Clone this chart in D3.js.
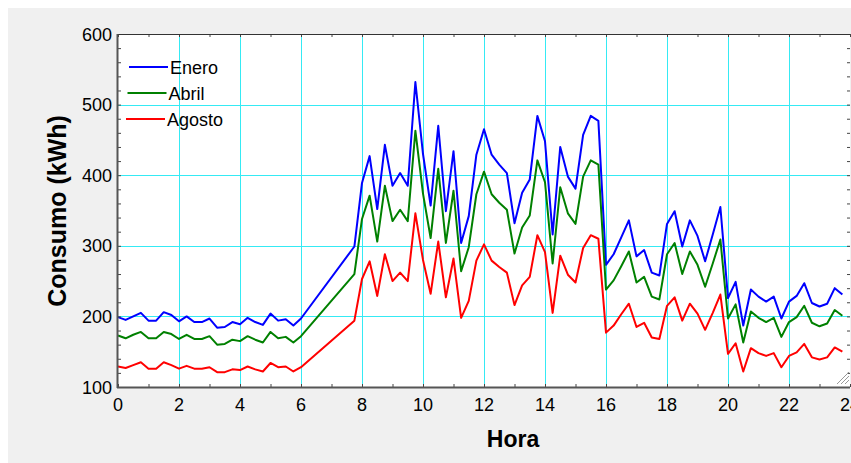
<!DOCTYPE html>
<html>
<head>
<meta charset="utf-8">
<script src="https://cdn.jsdelivr.net/npm/d3@7"></script>
<style>
body { margin: 0; background: #fff; overflow: hidden; }
text { font-family: Arial, "Liberation Sans", sans-serif; fill: #000; }
</style>
</head>
<body>
<svg id="chart" width="851" height="463"></svg>
<script>
// hours of the day (15 min steps, no samples between 6:00 and 7:45)
var horas = [0,0.25,0.5,0.75,1,1.25,1.5,1.75,2,2.25,2.5,2.75,3,3.25,3.5,3.75,4,4.25,4.5,4.75,5,5.25,5.5,5.75,6,
	7.75,
	8,8.25,8.5,8.75,9,9.25,9.5,9.75,10,10.25,10.5,10.75,11,11.25,11.5,11.75,
	12,12.25,12.5,12.75,13,13.25,13.5,13.75,14,14.25,14.5,14.75,15,15.25,15.5,15.75,
	16,16.25,16.5,16.75,17,17.25,17.5,17.75,18,18.25,18.5,18.75,19,19.25,19.5,19.75,
	20,20.25,20.5,20.75,21,21.25,21.5,21.75,22,22.25,22.5,22.75,23,23.25,23.5,23.75];

var enero = [199,195,200,205,194,194,206,202,193,200,192,192,197,184,185,192,189,198,192,188,204,194,196,187,197,
	299,
	389,427,352,443,385,403,385,532, 430,357,470,349,434,304,342,429,
	465,429,415,403,332,375,394,484, 448,316,440,398,381,457,484,477,
	273,288,312,336,285,294,262,258, 331,349,299,336,314,278,316,355,
	226,249,187,238,228,221,228,197, 221,229,247,219,214,218,240,231];

var abril = [173,169,174,178,169,169,178,175,168,174,168,168,172,160,161,167,165,172,167,163,178,169,171,163,172,
	260,
	338,371,306,385,335,351,335,463, 374,311,409,304,378,264,298,373,
	405,373,361,351,289,326,343,421, 390,275,383,346,331,398,421,415,
	238,251,271,292,248,256,228,224, 288,304,260,292,273,242,275,309,
	197,217,163,207,198,192,198,171, 192,199,215,191,186,190,209,201];

var agosto = [129,127,131,135,126,126,135,131,126,130,126,126,128,121,121,125,124,129,125,122,134,128,129,122,128,
	194,
	253,278,229,288,250,262,250,346, 280,232,306,227,282,198,222,279,
	302,279,270,262,216,244,256,315, 291,205,286,259,248,297,315,310,
	177,187,203,218,185,191,170,168, 215,227,194,218,204,181,205,231,
	147,162,122,155,148,144,148,128, 144,149,161,142,139,142,156,150];

var series = [
	{name: "Enero", values: enero, color: "#0000ff"},
	{name: "Abril", values: abril, color: "#008000"},
	{name: "Agosto", values: agosto, color: "#ff0000"}
];

var xTicks = [0,2,4,6,8,10,12,14,16,18,20,22,24];
var yTicks = [100,200,300,400,500,600];

var svg = d3.select("#chart");
var pLeft = 118, pRight = 850, pTop = 34, pBottom = 387;

// gray figure panel
svg.append("rect").attr("x", 8).attr("y", 8).attr("width", 851).attr("height", 463).attr("fill", "#f0f0f0");
svg.append("rect").attr("x", pLeft).attr("y", pTop).attr("width", pRight - pLeft).attr("height", pBottom - pTop).attr("fill", "#fff");

var x = d3.scaleLinear().domain([0, 24]).range([pLeft, pRight]);
var y = d3.scaleLinear().domain([100, 600]).range([pBottom, pTop]);

// grid
var grid = svg.append("g").attr("stroke", "#35eaf4").attr("stroke-width", 1);
grid.selectAll("line.gx")
	.data(xTicks.filter(function(d) { return d > 0 && d < 24; }))
	.enter().append("line")
	.attr("x1", function(d) { return Math.round(x(d)) + 0.5; })
	.attr("x2", function(d) { return Math.round(x(d)) + 0.5; })
	.attr("y1", pTop).attr("y2", pBottom);
grid.selectAll("line.gy")
	.data(yTicks.filter(function(d) { return d > 100 && d < 600; }))
	.enter().append("line")
	.attr("y1", function(d) { return Math.round(y(d)) + 0.5; })
	.attr("y2", function(d) { return Math.round(y(d)) + 0.5; })
	.attr("x1", pLeft).attr("x2", pRight);

// data lines
var line = d3.line()
	.x(function(d, i) { return x(horas[i]); })
	.y(function(d) { return y(d); });

svg.append("g").selectAll("path")
	.data(series)
	.enter().append("path")
	.attr("d", function(s) { return line(s.values); })
	.attr("fill", "none")
	.attr("stroke", function(s) { return s.color; })
	.attr("stroke-width", 2)
	.attr("stroke-linejoin", "round");

// axes, ticks inside the box on all four sides
var minorX = d3.range(0, 25, 1);
var minorY = d3.range(100, 601, 20);

svg.append("g").attr("transform", "translate(0," + pBottom + ")")
	.call(d3.axisBottom(x).tickValues(minorX).tickSize(-3).tickFormat(""));
svg.append("g").attr("transform", "translate(0," + pTop + ")")
	.call(d3.axisTop(x).tickValues(minorX).tickSize(-3).tickFormat(""));
svg.append("g").attr("transform", "translate(" + pLeft + ",0)")
	.call(d3.axisLeft(y).tickValues(minorY).tickSize(-3).tickFormat(""));
svg.append("g").attr("transform", "translate(" + pRight + ",0)")
	.call(d3.axisRight(y).tickValues(minorY).tickSize(-3).tickFormat(""));
svg.selectAll(".domain").remove();
svg.selectAll(".tick line").attr("stroke", "#444");

svg.append("line").attr("x1", pLeft).attr("x2", pRight).attr("y1", pTop + 0.5).attr("y2", pTop + 0.5).attr("stroke", "#333");
svg.append("line").attr("x1", pLeft - 0.5).attr("x2", pLeft - 0.5).attr("y1", pTop).attr("y2", pBottom + 1).attr("stroke", "#555").attr("stroke-width", 2);
svg.append("line").attr("x1", pLeft - 1).attr("x2", pRight).attr("y1", pBottom + 0.5).attr("y2", pBottom + 0.5).attr("stroke", "#555").attr("stroke-width", 2);

// tick labels
svg.append("g").selectAll("text")
	.data(xTicks)
	.enter().append("text")
	.attr("x", function(d) { return x(d); })
	.attr("y", 411)
	.attr("text-anchor", "middle")
	.style("font-size", "18px")
	.text(function(d) { return d; });

svg.append("g").selectAll("text")
	.data(yTicks)
	.enter().append("text")
	.attr("x", 112)
	.attr("y", function(d) { return y(d) + 6.5; })
	.attr("text-anchor", "end")
	.style("font-size", "18px")
	.text(function(d) { return d; });

// axis titles
svg.append("text")
	.attr("x", 513).attr("y", 447)
	.attr("text-anchor", "middle")
	.style("font-size", "23px").style("font-weight", "bold")
	.text("Hora");
svg.append("text")
	.attr("transform", "translate(66,211) rotate(-90)")
	.attr("text-anchor", "middle")
	.style("font-size", "25px").style("font-weight", "bold")
	.text("Consumo (kWh)");

// legend
var legend = svg.append("g").selectAll("g")
	.data(series)
	.enter().append("g")
	.attr("transform", function(d, i) { return "translate(" + (129 - i * 1.5) + "," + (67 + i * 26) + ")"; });
legend.append("line")
	.attr("x1", 0).attr("x2", 39)
	.attr("stroke", function(d) { return d.color; })
	.attr("stroke-width", 2);
legend.append("text")
	.attr("x", 41).attr("y", 7)
	.style("font-size", "18px")
	.text(function(d) { return d.name; });

// window resize grip
var grip = svg.append("g").attr("stroke", "#999").attr("stroke-width", 1);
[4, 8, 12].forEach(function(k) {
	grip.append("line").attr("x1", 849 - k).attr("y1", 384).attr("x2", 849).attr("y2", 384 - k);
});
</script>
</body>
</html>
